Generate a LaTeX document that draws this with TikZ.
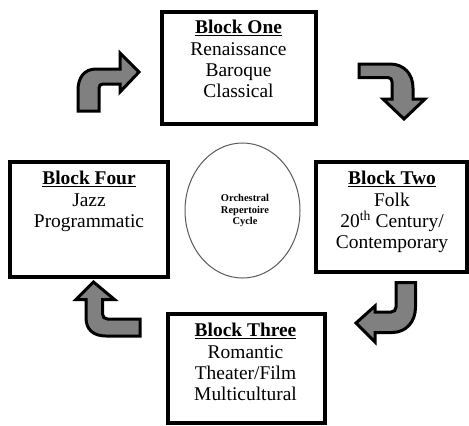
\documentclass[tikz,border=0pt]{standalone}
\usepackage{fontspec}
\setmainfont{Liberation Serif}
\usetikzlibrary{shapes.geometric}
\definecolor{arrowgray}{HTML}{808080}
\definecolor{ringgray}{HTML}{5A5A5A}
\begin{document}
\begin{tikzpicture}[x=1bp,y=-1bp,
  blockbox/.style={draw=black,line width=4bp,inner sep=0pt,outer sep=0pt},
  blocktext/.style={anchor=north,align=center,inner sep=0pt,font=\fontsize{19.5}{21.5}\selectfont},
  bentarrow/.style={fill=arrowgray,draw=black,line width=3bp,line join=miter},
  cyclering/.style={ellipse,draw=ringgray,line width=1bp,inner sep=0pt},
  ringlabel/.style={align=center,inner sep=0pt,font=\fontsize{10.5}{11.2}\selectfont\bfseries}]
\useasboundingbox (0,0) rectangle (469,425);

% blocks
\node[blockbox,minimum width=154bp,minimum height=112.3bp] (one) at (238.5,67.9) {};
\node[blocktext] (onetext) at (238.5,20) {\textbf{\underline{Block One}}\\Renaissance\\Baroque\\Classical};

\node[blockbox,minimum width=151bp,minimum height=110bp] (two) at (391,216.5) {};
\node[blocktext] (twotext) at (392,171) {\textbf{\underline{Block Two}}\\Folk\\20\textsuperscript{th} Century/\\Contemporary};

\node[blockbox,minimum width=157bp,minimum height=109.5bp] (three) at (246,368.25) {};
\node[blocktext] (threetext) at (245.5,323) {\textbf{\underline{Block Three}}\\Romantic\\Theater/Film\\Multicultural};

\node[blockbox,minimum width=157.5bp,minimum height=115.5bp] (four) at (89.25,219.25) {};
\node[blocktext] (fourtext) at (89,171) {\textbf{\underline{Block Four}}\\Jazz\\Programmatic};

% centre
\node[cyclering,minimum width=115bp,minimum height=135bp] (ring) at (242.5,210.5) {};
\node[ringlabel] (ringtext) at (245,210.5) {Orchestral\\Repertoire\\Cycle};

% bent arrows
\draw[bentarrow] (78,111) -- (78,90) .. controls (78,78) and (84,69) .. (96,69)
  -- (120,69) -- (120,53) -- (139,72) -- (120,92) -- (120,84) -- (103,84)
  .. controls (100.5,84) and (99,85.5) .. (99,88) -- (99,111) -- cycle;

\draw[bentarrow] (359,64) -- (390,64) .. controls (404,64) and (413,74) .. (413,88)
  -- (413,99) -- (425,99) -- (404,119) -- (383,99) -- (392,99) -- (392,82)
  .. controls (392,79.5) and (390.5,77.5) .. (388,77.5) -- (359,77.5) -- cycle;

\draw[bentarrow] (396,282.5) -- (415.5,282.5) -- (415.5,307)
  .. controls (415.5,322) and (406,332.5) .. (392,332.5) -- (375,332.5) -- (375,342)
  -- (356,323) -- (375,306) -- (375,312) -- (391,312)
  .. controls (394,312) and (396,310) .. (396,307) -- cycle;

\draw[bentarrow] (86,299.5) -- (76,299.5) -- (93.5,282) -- (114.5,299.5) -- (102.5,299.5)
  -- (102.5,314) .. controls (102.5,317) and (104.5,319) .. (107.5,319) -- (140,319)
  -- (140,336) -- (106,336) .. controls (94,336) and (86,330) .. (86,318) -- cycle;
\end{tikzpicture}
\end{document}
